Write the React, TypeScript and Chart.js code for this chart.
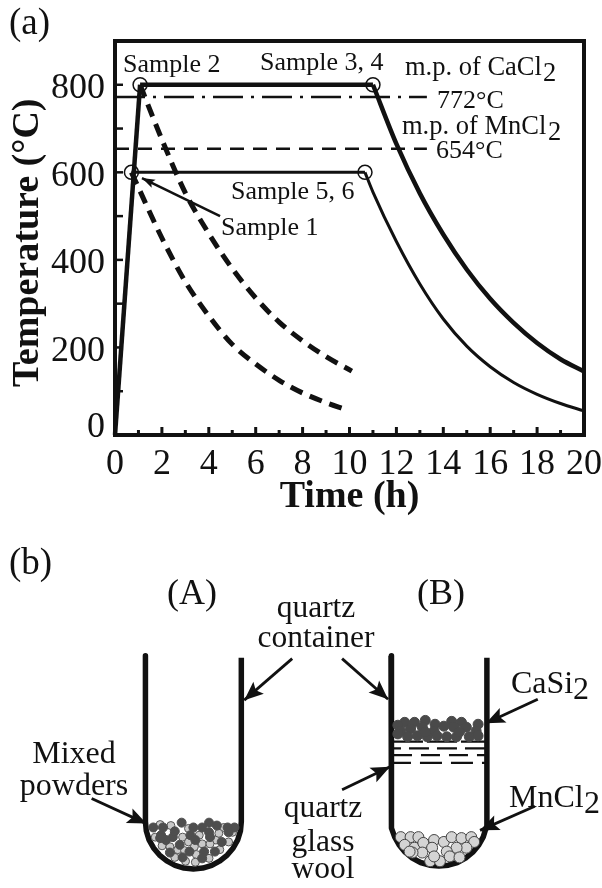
import React, { useEffect, useRef } from "react";
import { Chart, registerables } from "chart.js";

Chart.register(...registerables);

type P = { x: number; y: number };
const pts = (xs: number[], ys: number[]): P[] => xs.map((x, i) => ({ x, y: ys[i] }));
const pairs = (a: number[][]): P[] => a.map(([x, y]) => ({ x, y }));

// ---------- panel (a) data ----------
const heatX = [0, 1.07];
const heatY = [0, 800];
const plateau800X = [1.07, 11];
const plateau800Y = [800, 800];
const plateau600X = [0.7, 10.66];
const plateau600Y = [600, 600];
const cool34X = [11, 12, 13, 14, 15, 16, 17, 18, 19, 20];
const cool34Y = [800, 665, 552, 458, 378, 311, 256, 210, 173, 145];
const cool56X = [10.66, 11, 12, 13, 14, 15, 16, 17, 18, 19, 20];
const cool56Y = [600, 555, 442, 345, 265, 203, 156, 120, 93, 72, 55];
const cool2X = [1.07, 2, 3, 4, 5, 6, 7, 8, 9, 10.1];
const cool2Y = [800, 675, 553, 460, 380, 313, 258, 215, 179, 146];
const cool1X = [0.7, 1, 2, 3, 4, 5, 6, 7, 8, 9, 9.8];
const cool1Y = [600, 565, 450, 350, 272, 207, 162, 125, 96, 74, 59];
const mpCaX = [0, 13.3];
const mpCaY = [772, 772];
const mpMnX = [0, 13.3];
const mpMnY = [654, 654];
const circleX = [1.07, 11, 0.7, 10.66];
const circleY = [800, 800, 600, 600];
const arrowSample1 = [[4.48, 500], [1.15, 587]];
const yLabelled = [0, 200, 400, 600, 800];
const xLabelled = [0, 2, 4, 6, 8, 10, 12, 14, 16, 18, 20];

// ---------- panel (b) data ----------
const tubeA = [[142, 654], [142, 826], [142.9, 835.6], [145.7, 844.8], [150.3, 853.2], [156.4, 860.6], [163.8, 866.7], [172.2, 871.3], [181.4, 874.1], [191, 875], [200.6, 874.1], [209.8, 871.3], [218.2, 866.7], [225.6, 860.6], [231.7, 853.2], [236.3, 844.8], [239.1, 835.6], [240, 826], [240, 656]];
const tubeB = [[393, 654], [393, 823], [393.9, 832.6], [396.7, 841.8], [401.3, 850.2], [407.4, 857.6], [414.8, 863.7], [423.2, 868.3], [432.4, 871.1], [442, 872], [451.6, 871.1], [460.8, 868.3], [469.2, 863.7], [476.6, 857.6], [482.7, 850.2], [487.3, 841.8], [490.1, 832.6], [491, 823], [491, 656]];
const mixedDark = [[150, 832], [179, 827], [191, 832], [200, 832], [207, 827], [215, 830], [233, 832], [158, 840], [170, 842], [188, 840], [207, 837], [227, 837], [163, 845], [177, 850], [193, 845], [220, 847], [167, 858], [187, 857], [202, 857], [213, 857], [180, 863], [200, 864], [157, 843], [208, 842], [160, 832], [172, 836], [226, 832]];
const mixedLight = [[157, 829], [168, 830], [186, 833], [222, 832], [152, 842], [159, 851], [167, 852], [180, 842], [197, 840], [214, 845], [227, 847], [200, 849], [208, 849], [218, 855], [186, 847], [192, 852], [175, 855], [182, 856], [194, 860], [172, 863], [183, 867], [193, 868], [207, 864], [231, 837], [217, 838]];
const casiParticles = [[407, 723], [417, 723], [428, 721], [438, 725], [455, 722], [465, 723], [482, 725], [400, 726], [403, 732], [413, 730], [425, 728], [437, 732], [447, 727], [457, 728], [470, 728], [480, 732], [410, 738], [420, 737], [430, 738], [440, 737], [450, 738], [460, 738], [473, 738], [482, 737], [400, 735], [428, 733], [463, 733]];
const mncl2Particles = [[403, 842], [413, 842], [421, 842], [407, 850], [417, 853], [426, 848], [437, 845], [447, 847], [455, 842], [465, 843], [475, 842], [478, 847], [470, 853], [460, 853], [450, 857], [435, 853], [425, 858], [415, 858], [433, 867], [443, 867], [453, 862], [463, 863], [437, 862], [412, 857]];
const woolRowY = [743, 750, 757, 765];
const woolRowDash = [[30, 4], [20, 8], [19, 9], [22, 9]];
const woolRowOffset = [0, 12, 0, 4];
const arrowsB = [
  [[292, 657], [243, 700]],
  [[343, 657], [390, 699]],
  [[87, 802], [143, 828]],
  [[343, 793], [392, 769]],
  [[543, 699], [490, 724]],
  [[540, 810], [484, 835]],
];

// ---------- text ----------
const INK = "#111111";
const SERIF = '"Liberation Serif", serif';
type T = [string, number, number, number, string?];
const textA: T[] = [
  ["(a)", 9, 34, 37],
  ["Sample 2", 123, 72, 26],
  ["Sample 3, 4", 260, 70, 26],
  ["m.p. of CaCl", 405, 75, 26.5],
  ["2", 543, 81, 26.5],
  ["772°C", 437, 108, 26],
  ["m.p. of MnCl", 402, 134, 26.5],
  ["2", 548, 140, 26.5],
  ["654°C", 436, 158, 26],
  ["Sample 5, 6", 231, 199, 26],
  ["Sample 1", 221, 235, 26],
];
const textB: T[] = [
  ["(b)", 9, 574, 37],
  ["(A)", 167, 604, 36],
  ["(B)", 417, 604, 36],
  ["quartz", 316, 617, 31.5, "center"],
  ["container", 316, 647, 31.5, "center"],
  ["Mixed", 74, 763, 32, "center"],
  ["powders", 74, 795, 32, "center"],
  ["quartz", 323, 817, 31.5, "center"],
  ["glass", 323, 851, 31.5, "center"],
  ["wool", 323, 878, 31.5, "center"],
  ["CaSi", 511, 693, 32],
  ["2", 573, 699, 32],
  ["MnCl", 509, 807, 32],
  ["2", 584, 813, 32],
];

function drawTexts(ctx: CanvasRenderingContext2D, list: T[], offsetY: number) {
  ctx.save();
  ctx.fillStyle = INK;
  ctx.textBaseline = "alphabetic";
  for (const [s, x, y, size, align] of list) {
    ctx.font = `${size}px ${SERIF}`;
    ctx.textAlign = (align as CanvasTextAlign) || "left";
    ctx.fillText(s, x, y - offsetY);
  }
  ctx.restore();
}

function drawHead(ctx: CanvasRenderingContext2D, tail: P, tip: P, len: number, half: number) {
  const a = Math.atan2(tip.y - tail.y, tip.x - tail.x);
  const c = Math.cos(a), s = Math.sin(a);
  ctx.save();
  ctx.fillStyle = INK;
  ctx.beginPath();
  ctx.moveTo(tip.x, tip.y);
  ctx.lineTo(tip.x - len * c - half * s, tip.y - len * s + half * c);
  ctx.lineTo(tip.x - len * 0.8 * c, tip.y - len * 0.8 * s);
  ctx.lineTo(tip.x - len * c + half * s, tip.y - len * s - half * c);
  ctx.closePath();
  ctx.fill();
  ctx.restore();
}

const line = (data: P[], width: number, extra: object = {}) => ({
  data,
  showLine: true,
  borderColor: INK,
  backgroundColor: INK,
  borderWidth: width,
  pointRadius: 0,
  tension: 0,
  clip: false,
  ...extra,
});
const curve = { cubicInterpolationMode: "monotone" };
const dots = (data: P[], r: number, fill: string, edge: string, w = 1) => ({
  data,
  showLine: false,
  pointRadius: r,
  pointBackgroundColor: fill,
  pointBorderColor: edge,
  pointBorderWidth: w,
  clip: false,
});

const panelAPlugin = {
  id: "panelA",
  afterDraw(chart: any) {
    const { ctx, chartArea: a, scales } = chart;
    ctx.save();
    ctx.strokeStyle = INK;
    ctx.lineWidth = 2.5;
    scales.y.ticks.forEach((t: any) => {
      if (t.value === 0 || t.value === 900) return;
      const y = scales.y.getPixelForValue(t.value);
      ctx.beginPath();
      ctx.moveTo(a.left, y);
      ctx.lineTo(a.left + 8, y);
      ctx.stroke();
    });
    ctx.lineWidth = 3;
    scales.x.ticks.forEach((t: any) => {
      if (t.value === 0 || t.value === 20) return;
      const x = scales.x.getPixelForValue(t.value);
      ctx.beginPath();
      ctx.moveTo(x, a.bottom);
      ctx.lineTo(x, a.bottom - (t.value % 2 === 0 ? 8 : 5));
      ctx.stroke();
    });
    ctx.lineWidth = 4;
    ctx.strokeRect(a.left, a.top, a.right - a.left, a.bottom - a.top);
    ctx.restore();
    const tail = { x: scales.x.getPixelForValue(arrowSample1[0][0]), y: scales.y.getPixelForValue(arrowSample1[0][1]) };
    const tip = { x: scales.x.getPixelForValue(arrowSample1[1][0]), y: scales.y.getPixelForValue(arrowSample1[1][1]) };
    drawHead(ctx, tail, tip, 13, 4.5);
    drawTexts(ctx, textA, 0);
  },
};

const panelBPlugin = {
  id: "panelB",
  afterDraw(chart: any) {
    const { ctx, scales } = chart;
    arrowsB.forEach(([t, h]) => {
      drawHead(
        ctx,
        { x: scales.x.getPixelForValue(t[0]), y: scales.y.getPixelForValue(t[1]) },
        { x: scales.x.getPixelForValue(h[0]), y: scales.y.getPixelForValue(h[1]) },
        19,
        8
      );
    });
    drawTexts(ctx, textB, 520);
  },
};

export default function App() {
  const topRef = useRef<HTMLCanvasElement>(null);
  const botRef = useRef<HTMLCanvasElement>(null);

  useEffect(() => {
    document.body.style.margin = "0";
    document.body.style.background = "#fff";
    const tickFont = { family: SERIF, size: 36 };
    const titleFont = { family: SERIF, size: 38, weight: "bold" as const };

    const top = new Chart(topRef.current!, {
      type: "scatter",
      data: {
        datasets: [
          line(pts(mpCaX, mpCaY), 2.5, { borderDash: [30, 8, 3, 8] }),
          line(pts(mpMnX, mpMnY), 2.5, { borderDash: [14, 9] }),
          line(pts(plateau600X, plateau600Y), 3),
          line(pts(cool56X, cool56Y), 3, curve),
          line(pts(cool1X, cool1Y), 5, { ...curve, borderDash: [13, 8] }),
          line(pts(cool2X, cool2Y), 5, { ...curve, borderDash: [13, 8] }),
          line(pts(plateau800X, plateau800Y), 4.5),
          line(pts(cool34X, cool34Y), 4.5, curve),
          line(pts(heatX, heatY), 4.5),
          line(pairs(arrowSample1), 2.5),
          dots(pts(circleX, circleY), 7, "rgba(0,0,0,0)", INK, 1.5),
        ] as any,
      },
      options: {
        animation: false,
        responsive: false,
        layout: { padding: { left: 0, right: 18, top: 41, bottom: 0 } },
        plugins: { legend: { display: false }, tooltip: { enabled: false } },
        scales: {
          x: {
            type: "linear",
            min: 0,
            max: 20,
            afterFit: (s: any) => {
              s.height = 85;
              s.paddingLeft = 0;
              s.paddingRight = 0;
            },
            grid: { display: false },
            border: { display: false },
            ticks: {
              stepSize: 1,
              autoSkip: false,
              maxRotation: 0,
              padding: 0,
              color: INK,
              font: tickFont,
              callback: (v: any) => (xLabelled.includes(v) ? String(v) : ""),
            },
            title: { display: true, text: "Time (h)", color: INK, font: titleFont, padding: { top: 0, bottom: 0 } },
          },
          y: {
            type: "linear",
            min: 0,
            max: 900,
            afterFit: (s: any) => {
              s.width = 115;
              s.paddingTop = 0;
              s.paddingBottom = 0;
            },
            grid: { display: false },
            border: { display: false },
            ticks: {
              stepSize: 100,
              autoSkip: false,
              padding: 2,
              labelOffset: 4,
              color: INK,
              font: (c: any) => ({ ...tickFont, lineHeight: c.tick && c.tick.value === 0 ? 0.62 : 1.2 }),
              callback: (v: any) => (v === 0 ? ["0", ""] : yLabelled.includes(v) ? String(v) : ""),
            },
            title: { display: true, text: "Temperature (°C)\u00A0", color: INK, font: titleFont, padding: { top: 5, bottom: 0 } },
          },
        },
      } as any,
      plugins: [panelAPlugin],
    });

    const bot = new Chart(botRef.current!, {
      type: "scatter",
      data: {
        datasets: [
          dots(pairs(mixedDark), 4.5, "#4e4e4e", "#4e4e4e"),
          dots(pairs(mixedLight), 4, "#c9c9c9", "#555555"),
          dots(pairs(casiParticles), 5, "#4a4a4a", "#4a4a4a"),
          dots(pairs(mncl2Particles), 5.5, "#d4d4d4", "#444444"),
          line(pairs(tubeA), 5.5, { borderJoinStyle: "round" }),
          line(pairs(tubeB), 5.5, { borderJoinStyle: "round" }),
          ...woolRowY.map((y, i) =>
            line(pts([395, 489], [y, y]), 2.2, { borderDash: woolRowDash[i], borderDashOffset: woolRowOffset[i] })
          ),
          ...arrowsB.map((a) => line(pairs(a), 2.8)),
        ] as any,
      },
      options: {
        animation: false,
        responsive: false,
        layout: { padding: 0 },
        plugins: { legend: { display: false }, tooltip: { enabled: false } },
        scales: {
          x: { type: "linear", min: 0, max: 602, display: false },
          y: { type: "linear", min: 520, max: 888, reverse: true, display: false },
        },
      } as any,
      plugins: [panelBPlugin],
    });

    return () => {
      top.destroy();
      bot.destroy();
    };
  }, []);

  const soft = { filter: "blur(0.35px)" };
  return (
    <div style={{ position: "absolute", left: 0, top: 0, width: 602, height: 888, background: "#fff", overflow: "hidden" }}>
      <canvas ref={topRef} width={602} height={520} style={{ position: "absolute", left: 0, top: 0, width: 602, height: 520, ...soft }} />
      <canvas ref={botRef} width={602} height={368} style={{ position: "absolute", left: 0, top: 520, width: 602, height: 368, ...soft }} />
    </div>
  );
}
